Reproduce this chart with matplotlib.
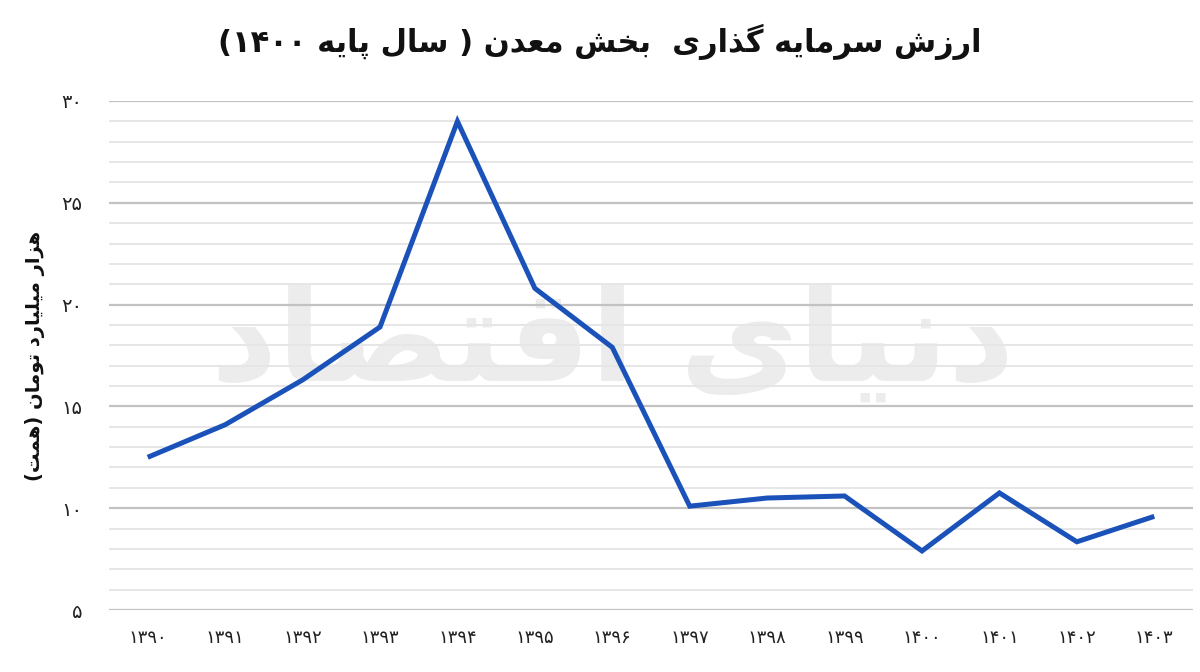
import matplotlib
matplotlib.use("Agg")
import matplotlib.pyplot as plt
from matplotlib.ticker import MultipleLocator, FixedLocator

# ---------------- data ----------------
years = [1390, 1391, 1392, 1393, 1394, 1395, 1396, 1397, 1398, 1399, 1400, 1401, 1402, 1403]
values = [12.5, 14.1, 16.3, 18.9, 29.0, 20.8, 17.9, 10.1, 10.5, 10.6, 7.9, 10.75, 8.35, 9.6]
y_ticks = [5, 10, 15, 20, 25, 30]
title_text = "ارزش سرمایه گذاری  بخش معدن ( سال پایه ۱۴۰۰)"
ylabel_text = "هزار میلیارد تومان (همت)"
watermark_text = "دنیای اقتصاد"

# ---------------- minimal Arabic/Persian shaping ----------------
FORMS = {
    'ا': (0xFE8D, 0xFE8E, None, None),
    'ب': (0xFE8F, 0xFE90, 0xFE91, 0xFE92),
    'پ': (0xFB56, 0xFB57, 0xFB58, 0xFB59),
    'ت': (0xFE95, 0xFE96, 0xFE97, 0xFE98),
    'خ': (0xFEA5, 0xFEA6, 0xFEA7, 0xFEA8),
    'د': (0xFEA9, 0xFEAA, None, None),
    'ذ': (0xFEAB, 0xFEAC, None, None),
    'ر': (0xFEAD, 0xFEAE, None, None),
    'ز': (0xFEAF, 0xFEB0, None, None),
    'س': (0xFEB1, 0xFEB2, 0xFEB3, 0xFEB4),
    'ش': (0xFEB5, 0xFEB6, 0xFEB7, 0xFEB8),
    'ص': (0xFEB9, 0xFEBA, 0xFEBB, 0xFEBC),
    'ع': (0xFEC9, 0xFECA, 0xFECB, 0xFECC),
    'ق': (0xFED5, 0xFED6, 0xFED7, 0xFED8),
    'ل': (0xFEDD, 0xFEDE, 0xFEDF, 0xFEE0),
    'م': (0xFEE1, 0xFEE2, 0xFEE3, 0xFEE4),
    'ن': (0xFEE5, 0xFEE6, 0xFEE7, 0xFEE8),
    'ه': (0xFEE9, 0xFEEA, 0xFEEB, 0xFEEC),
    'و': (0xFEED, 0xFEEE, None, None),
    'ی': (0xFBFC, 0xFBFD, 0xFBFE, 0xFBFF),
    'گ': (0xFB92, 0xFB93, 0xFB94, 0xFB95),
}


def _dual(c):
    return c in FORMS and FORMS[c][2] is not None


def shape(text):
    out = []
    for i, c in enumerate(text):
        if c not in FORMS:
            out.append(c)
            continue
        prev = text[i - 1] if i > 0 else ''
        nxt = text[i + 1] if i + 1 < len(text) else ''
        jp = _dual(prev)
        jn = _dual(c) and nxt in FORMS
        iso, fin, ini, med = FORMS[c]
        if jp and jn:
            cp = med
        elif jp:
            cp = fin
        elif jn:
            cp = ini
        else:
            cp = iso
        out.append(chr(cp))
    return ''.join(out)


def visual(text):
    s = shape(text)[::-1]
    res, run = [], []
    for c in s:
        if c.isdigit():
            run.append(c)
        else:
            if run:
                res.extend(run[::-1])
                run = []
            res.append({'(': ')', ')': '('}.get(c, c))
    if run:
        res.extend(run[::-1])
    return ''.join(res)


def fa_digits(n):
    return str(n).translate(str.maketrans('0123456789', '۰۱۲۳۴۵۶۷۸۹'))


plt.rcParams['font.family'] = ['DejaVu Sans']

fig = plt.figure(figsize=(12, 6.72), dpi=100)
ax = fig.add_axes([109 / 1200, 62 / 672, 1084 / 1200, 509 / 672])

x = list(range(len(years)))

# watermark (inside plot area)
ax.text(0.465, 0.52, visual(watermark_text), transform=ax.transAxes, fontsize=93,
        fontweight='bold', color='#ececec', ha='center', va='center', zorder=0,
        family=['DejaVu Sans'])

ax.plot(x, values, color='#1a52b9', linewidth=3.6, solid_joinstyle='miter',
        solid_capstyle='butt', zorder=3)

ax.set_xlim(-0.5, len(years) - 0.5)
ax.set_ylim(5, 30)
ax.yaxis.set_major_locator(FixedLocator(y_ticks))
ax.yaxis.set_minor_locator(MultipleLocator(1))
ax.grid(axis='y', which='major', color='#c2c2c2', linewidth=1.6, zorder=1)
ax.grid(axis='y', which='minor', color='#e6e6e6', linewidth=1.4, zorder=1)
ax.set_axisbelow(True)

for sp in ax.spines.values():
    sp.set_visible(False)

ax.set_xticks(x)
ax.set_xticklabels([fa_digits(y) for y in years], fontsize=13, color='#222222')
ax.set_yticks(y_ticks)
ax.set_yticklabels([fa_digits(v) for v in y_ticks], fontsize=14, color='#222222')
ax.tick_params(axis='both', which='both', length=0)
ax.tick_params(axis='x', pad=14)
ax.tick_params(axis='y', pad=19)

ax.set_ylabel(visual(ylabel_text), fontsize=14, fontweight='bold', labelpad=12, color='#111111')
fig.suptitle(visual(title_text), fontsize=22, fontweight='bold', y=0.965, x=0.5, color='#111111')

fig.savefig('out.png', dpi=100)
